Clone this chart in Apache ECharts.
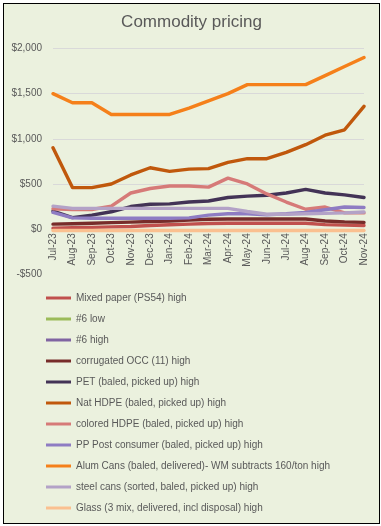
<!DOCTYPE html>
<html>
<head>
<meta charset="utf-8">
<script src="https://cdn.jsdelivr.net/npm/echarts@6/dist/echarts.min.js"></script>
<style>
html,body{margin:0;padding:0;background:#fff;width:381px;height:526px;overflow:hidden;}
#frame{position:absolute;left:3px;top:3px;width:375px;height:519px;border:1px solid #000;background:#EBF1DE;}
#chart{width:375px;height:519px;}
</style>
</head>
<body>
<div id="frame"><div id="chart"></div></div>
<script>
const categories = ['Jul-23','Aug-23','Sep-23','Oct-23','Nov-23','Dec-23','Jan-24','Feb-24','Mar-24','Apr-24','May-24','Jun-24','Jul-24','Aug-24','Sep-24','Oct-24','Nov-24'];
const yTicks = [-500, 0, 500, 1000, 1500, 2000];

const mixedPaper   = [10, 15, 20, 25, 30, 40, 48, 55, 62, 65, 65, 65, 65, 65, 50, 45, 40];
const no6Low       = [];
const no6High      = [];
const corrugatedOCC= [55, 60, 65, 72, 78, 84, 90, 100, 110, 112, 112, 112, 112, 112, 90, 80, 75];
const pet          = [200, 128, 155, 192, 250, 276, 280, 300, 312, 350, 365, 375, 400, 440, 400, 380, 350];
const natHDPE      = [900, 460, 460, 500, 600, 680, 640, 665, 670, 740, 780, 780, 850, 935, 1040, 1100, 1360];
const coloredHDPE  = [225, 218, 218, 255, 400, 450, 478, 478, 465, 565, 500, 390, 300, 220, 245, 180, 180];
const ppPost       = [185, 125, 120, 120, 120, 120, 120, 125, 155, 170, 170, 160, 170, 185, 215, 245, 240];
const alumCans     = [1500, 1400, 1400, 1270, 1270, 1270, 1270, 1340, 1420, 1500, 1600, 1600, 1600, 1600, 1700, 1800, 1900];
const steelCans    = [255, 230, 230, 230, 230, 230, 230, 230, 230, 230, 195, 165, 165, 170, 175, 180, 190];
const glass        = [-15, -15, -15, -15, -15, -15, -15, -15, -15, -15, -15, -15, -15, -15, -15, -15, -15];

const seriesDefs = [
  ['Mixed paper (PS54) high', mixedPaper, '#C0504D'],
  ['#6 low', no6Low, '#9BBB59'],
  ['#6 high', no6High, '#8064A2'],
  ['corrugated OCC (11) high', corrugatedOCC, '#772C2A'],
  ['PET (baled, picked up) high', pet, '#433356'],
  ['Nat HDPE (baled, picked up) high', natHDPE, '#C0580C'],
  ['colored HDPE (baled, picked up) high', coloredHDPE, '#D67A78'],
  ['PP Post consumer (baled, picked up) high', ppPost, '#8E7CC3'],
  ['Alum Cans (baled, delivered)- WM subtracts 160/ton high', alumCans, '#F5801A'],
  ['steel cans (sorted, baled, picked up) high', steelCans, '#B3A2C7'],
  ['Glass (3 mix, delivered, incl disposal) high', glass, '#FAC090']
];

const FONT = 'Liberation Sans';
const TXT = '#595959';

const chart = echarts.init(document.getElementById('chart'), null, {renderer:'canvas'});
chart.setOption({
  animation: false,
  textStyle: {fontFamily: FONT},
  title: {
    text: 'Commodity pricing',
    left: 'center',
    top: 10,
    padding: 0,
    textStyle: {fontFamily: FONT, fontSize: 17, fontWeight: 'normal', color: TXT}
  },
  grid: {left: 49, right: 15, top: 44.5, bottom: 248.7, containLabel: false},
  xAxis: {
    type: 'category',
    data: categories,
    boundaryGap: false,
    axisLine: {show: false, onZero: false},
    axisTick: {show: false},
    axisLabel: {rotate: 90, fontSize: 10, color: TXT, fontFamily: FONT, margin: -41, interval: 0, hideOverlap: false},
    splitLine: {show: false}
  },
  yAxis: {
    type: 'value',
    min: yTicks[0],
    max: yTicks[yTicks.length - 1],
    interval: 500,
    axisLine: {show: false},
    axisTick: {show: false},
    axisLabel: {
      fontSize: 10, color: TXT, fontFamily: FONT, margin: 11,
      formatter: v => (v < 0 ? '-$' : '$') + Math.abs(v).toLocaleString('en-US')
    },
    splitLine: {show: true, lineStyle: {color: ['transparent', '#D9D9D9', '#D9D9D9', '#D9D9D9', '#D9D9D9', '#D9D9D9'], width: 1}}
  },
  legend: {
    orient: 'vertical',
    left: 42,
    top: 287,
    padding: 0,
    itemGap: 7,
    itemWidth: 25,
    itemHeight: 3,
    icon: 'rect',
    textStyle: {fontSize: 10, color: TXT, fontFamily: FONT, lineHeight: 14},
    data: seriesDefs.map(d => d[0])
  },
  series: seriesDefs.map(d => ({
    name: d[0],
    type: 'line',
    data: d[1],
    symbol: 'none',
    color: d[2],
    lineStyle: {width: 3.4, color: d[2], cap: 'round', join: 'round'}
  }))
});
</script>
</body>
</html>
